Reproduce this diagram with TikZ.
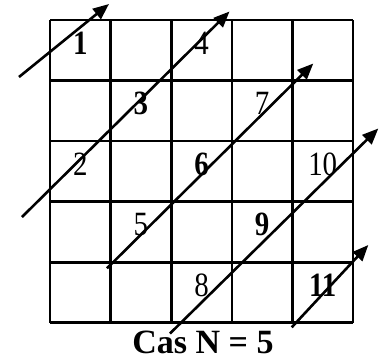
\documentclass[tikz,border=0pt]{standalone}
\usepackage{fontspec}
\setmainfont{Liberation Serif}
\usepackage{graphicx}
\usetikzlibrary{arrows.meta}
\newcommand{\nmb}[1]{\scalebox{0.85}[1]{#1}}
\begin{document}
\begin{tikzpicture}[x=1pt,y=-1pt,
  gridline/.style={line width=2.6pt},
  diag/.style={line width=2.6pt,-{Triangle[length=16pt,width=13pt]}},
  numlbl/.style={anchor=base,inner sep=0pt,font=\fontsize{34}{34}\selectfont},
  numbold/.style={anchor=base,inner sep=0pt,font=\fontsize{34}{34}\selectfont\bfseries},
  title/.style={anchor=base,inner sep=0pt,font=\fontsize{34}{34}\selectfont\bfseries}]
\useasboundingbox (0,0) rectangle (390,360);
% numbers
\node[numbold] (n1)  at (80.3,54)    {\nmb{1}};
\node[numlbl]  (n4)  at (201.5,54)   {\nmb{4}};
\node[numbold] (n3)  at (140.9,114.5){\nmb{3}};
\node[numlbl]  (n7)  at (262.1,114.5){\nmb{7}};
\node[numlbl]  (n2)  at (80.3,175)   {\nmb{2}};
\node[numbold] (n6)  at (201.5,175)  {\nmb{6}};
\node[numlbl]  (n10) at (322.7,175)  {\nmb{10}};
\node[numlbl]  (n5)  at (140.9,235.6){\nmb{5}};
\node[numbold] (n9)  at (262.1,235.6){\nmb{9}};
\node[numlbl]  (n8)  at (201.5,296.2){\nmb{8}};
\node[numbold] (n11) at (322.7,296.2){\nmb{11}};
% grid
\foreach \x in {50,110.6,171.2,231.8,292.4,353}
  \draw[gridline] (\x,20) -- (\x,322.7);
\foreach \y in {20,80.5,141,201.6,262.2,322.7}
  \draw[gridline] (50,\y) -- (353,\y);
% arrows
\coordinate (a1s) at (19,77);     \coordinate (a1e) at (109,4);
\coordinate (a2s) at (22,217);    \coordinate (a2e) at (229.5,11.5);
\coordinate (a3s) at (107,268.3); \coordinate (a3e) at (313.3,63.5);
\coordinate (a4s) at (170,333.5); \coordinate (a4e) at (378.3,128.5);
\coordinate (a5s) at (291.7,327.3); \coordinate (a5e) at (368.3,245);
\draw[diag] (a1s) -- (a1e);
\draw[diag] (a2s) -- (a2e);
\draw[diag] (a3s) -- (a3e);
\draw[diag] (a4s) -- (a4e);
\draw[diag] (a5s) -- (a5e);
% title
\node[title] (t) at (203,353.5) {Cas N = 5};
\end{tikzpicture}
\end{document}
